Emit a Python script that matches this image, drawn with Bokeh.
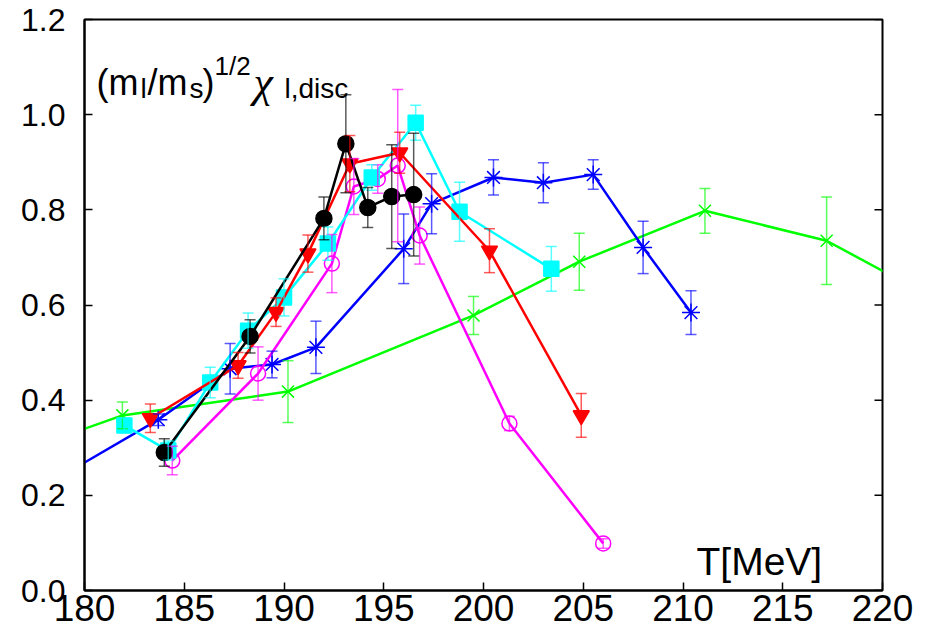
from bokeh.plotting import figure
from bokeh.models import (ColumnDataSource, Whisker, TeeHead, Label,
                          FixedTicker, Range1d)
from bokeh.embed import file_html
from bokeh.resources import INLINE

# ---------------- data ----------------
x_ticks = [180, 185, 190, 195, 200, 205, 210, 215, 220]
x_tick_labels = ["180", "185", "190", "195", "200", "205", "210", "215", "220"]
y_ticks = [0.0, 0.2, 0.4, 0.6, 0.8, 1.0, 1.2]
y_tick_labels = ["0.0", "0.2", "0.4", "0.6", "0.8", "1.0", "1.2"]

green_T = [178.0, 181.9, 190.2, 199.5, 204.8, 211.1, 217.2, 223.0]
green_v = [0.310, 0.368, 0.418, 0.578, 0.691, 0.798, 0.735, 0.604]
green_e = [0.030, 0.028, 0.065, 0.040, 0.060, 0.047, 0.092, 0.050]

blue_T = [178.0, 183.7, 187.3, 189.4, 191.6, 196.0, 197.4, 200.5, 203.0, 205.5, 208.0, 210.4]
blue_v = [0.220, 0.359, 0.466, 0.475, 0.511, 0.718, 0.813, 0.868, 0.857, 0.874, 0.721, 0.584]
blue_e = [0.020, 0.012, 0.053, 0.028, 0.055, 0.073, 0.063, 0.037, 0.042, 0.031, 0.055, 0.046]

magenta_T = [184.4, 188.7, 192.4, 193.5, 194.7, 195.7, 196.8, 201.3, 206.0]
magenta_v = [0.273, 0.456, 0.687, 0.849, 0.865, 0.893, 0.746, 0.351, 0.099]
magenta_e = [0.030, 0.056, 0.061, 0.059, 0.030, 0.160, 0.060, 0.015, 0.010]

cyan_T = [182.0, 184.2, 186.3, 188.2, 190.0, 192.2, 194.4, 196.6, 198.8, 203.4]
cyan_v = [0.347, 0.294, 0.437, 0.546, 0.616, 0.729, 0.868, 0.983, 0.796, 0.676]
cyan_e = [0.015, 0.020, 0.032, 0.037, 0.039, 0.035, 0.027, 0.037, 0.062, 0.047]

red_T = [183.3, 187.7, 189.6, 191.2, 193.3, 195.8, 200.3, 204.9]
red_v = [0.362, 0.473, 0.585, 0.708, 0.897, 0.920, 0.714, 0.368]
red_e = [0.030, 0.027, 0.030, 0.039, 0.059, 0.043, 0.046, 0.046]

black_T = [184.0, 188.3, 192.0, 193.1, 194.2, 195.4, 196.5]
black_v = [0.290, 0.534, 0.782, 0.939, 0.805, 0.828, 0.832]
black_e = [0.029, 0.035, 0.045, 0.103, 0.042, 0.109, 0.129]

FONT = "Liberation Sans"

p = figure(width=925, height=638, x_range=Range1d(180, 220), y_range=Range1d(0, 1.2),
           output_backend="svg", toolbar_location=None,
           min_border_left=84, min_border_right=43, min_border_top=19, min_border_bottom=48)
p.xgrid.visible = False
p.ygrid.visible = False
p.outline_line_color = "black"
p.outline_line_width = 2
p.background_fill_color = "white"
p.border_fill_color = "white"


def style_axis(ax, ticks, labels, size):
    ax.ticker = FixedTicker(ticks=ticks)
    ax.major_label_overrides = {t: l for t, l in zip(ticks, labels)}
    ax.axis_line_color = "black"
    ax.axis_line_width = 2
    ax.major_tick_in = 8
    ax.major_tick_out = 0
    ax.major_tick_line_color = "black"
    ax.major_tick_line_width = 1.5
    ax.minor_tick_line_color = None
    ax.major_label_text_font = FONT
    ax.major_label_text_color = "black"
    ax.major_label_text_font_size = size


style_axis(p.xaxis[0], x_ticks, x_tick_labels, "37px")
p.xaxis[0].major_label_standoff = 4
style_axis(p.yaxis[0], y_ticks, y_tick_labels, "32px")
p.yaxis[0].major_label_standoff = 19

# mirrored tick marks on the right frame edge (half of a dash is clipped by the frame)
p.scatter(x=[x_ticks[-1]] * len(y_ticks), y=y_ticks, marker="dash", size=16,
          line_color="black", line_width=1.5)


def series(T, v, e, color, marker, size, fill, zline_w=2.5):
    src = ColumnDataSource(dict(x=T, y=v,
                                lo=[a - b for a, b in zip(v, e)],
                                hi=[a + b for a, b in zip(v, e)]))
    w = Whisker(source=src, base="x", upper="hi", lower="lo",
                line_color=color, line_width=1.5, line_alpha=0.65,
                upper_head=TeeHead(size=11, line_color=color, line_width=1.5, line_alpha=0.65),
                lower_head=TeeHead(size=11, line_color=color, line_width=1.5, line_alpha=0.65))
    w.level = "glyph"
    p.add_layout(w)
    p.line("x", "y", source=src, line_color=color, line_width=zline_w)
    p.scatter("x", "y", source=src, marker=marker, size=size,
              line_color=color, fill_color=(color if fill else None),
              line_width=1.5)


series(green_T, green_v, green_e, "#00ff00", "x", 17, False)
series(blue_T, blue_v, blue_e, "#0000ff", "asterisk", 18, False)
series(magenta_T, magenta_v, magenta_e, "#ff00ff", "circle", 15, False)
series(cyan_T, cyan_v, cyan_e, "#00ffff", "square", 15, True)
series(red_T, red_v, red_e, "#ff0000", "inverted_triangle", 16, True)
series(black_T, black_v, black_e, "#000000", "circle", 16, True)


# ---------------- text labels (pixel -> data helper for placement) ----------------
def px2x(px):
    return 180 + (px - 84) / 19.95


def py2y(py):
    return (590 - py) / 476.0


def put(txt, px, py, size, font=FONT, style="normal"):
    p.add_layout(Label(x=px2x(px), y=py2y(py - 13), text=txt, text_font=font,
                       text_font_size=size, text_color="black", text_font_style=style,
                       text_baseline="alphabetic", text_align="left"))


put("(m", 96, 95, "36px")
put("l", 140, 101, "28px")
put("/m", 147, 95, "36px")
put("s", 189, 101, "28px")
put(")", 202, 95, "36px")
put("1/2", 214, 78, "26px")
put("\u03c7", 253, 95, "44px", font="Liberation Serif", style="italic")
put("l,disc", 284, 101, "28px")

put("T[MeV]", 696, 574, "39px")

open("out.html", "w").write(file_html(p, INLINE))
